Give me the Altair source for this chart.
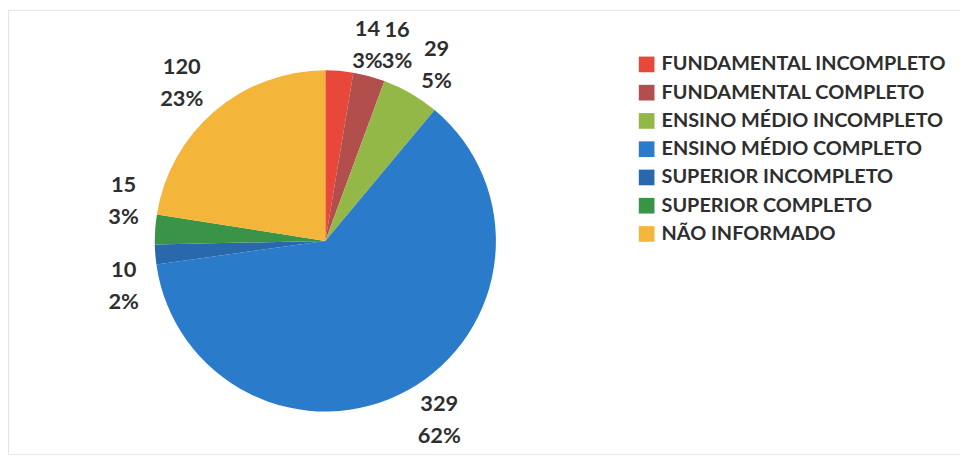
import altair as alt
import pandas as pd

categories = ["FUNDAMENTAL INCOMPLETO", "FUNDAMENTAL COMPLETO", "ENSINO MÉDIO INCOMPLETO",
              "ENSINO MÉDIO COMPLETO", "SUPERIOR INCOMPLETO", "SUPERIOR COMPLETO", "NÃO INFORMADO"]
values = [14, 16, 29, 329, 10, 15, 120]
percents = ["3%", "3%", "5%", "62%", "2%", "3%", "23%"]
colors = ["#E8483A", "#B24E4C", "#94B847", "#2B7BCB", "#2A68AD", "#399447", "#F4B63A"]

df = pd.DataFrame({
    "cat": categories,
    "value": values,
    "order": list(range(len(values))),
    "label": [f"{v}\n{p}" for v, p in zip(values, percents)],
})

CX, CY = 320, 233
color = alt.Color("cat:N", scale=alt.Scale(domain=categories, range=colors),
                  legend=alt.Legend(title=None, orient="none", legendX=634, legendY=45,
                                    symbolType="square", symbolSize=250, symbolStrokeWidth=0,
                                    labelFont="Lato", labelFontWeight="bold", labelFontSize=20,
                                    labelColor="#2e2e2e", rowPadding=8.5, labelOffset=5,
                                    labelLimit=400))

pie = alt.Chart(df).mark_arc(outerRadius=172, stroke=None).encode(
    theta=alt.Theta("value:Q", stack=True),
    order=alt.Order("order:Q"),
    color=color, x=alt.value(CX), y=alt.value(CY)
)

text_base = alt.Chart(df).transform_window(
    cum="sum(value)", sort=[alt.SortField("order")], frame=[None, 0]
).transform_joinaggregate(
    total="sum(value)"
).transform_calculate(
    mid="(datum.cum - datum.value / 2) / datum.total"
)

offsets = [(25, -2), (18, -8), (6, -10), (12, -21), (8, 13), (8, -42), (-7, -14)]
layers = [pie]
for cat, (dx, dy) in zip(categories, offsets):
    layers.append(
        text_base.transform_filter(alt.datum.cat == cat).mark_text(
            radius=212, dx=dx, dy=dy, font="Lato", fontWeight="bold", fontSize=22,
            color="#2e2e2e", lineBreak="\n", lineHeight=32, align="center", baseline="middle"
        ).encode(
            theta=alt.Theta("mid:Q", stack=None, scale=alt.Scale(domain=[0, 1])),
            text="label:N", x=alt.value(CX), y=alt.value(CY)
        )
    )

chart = alt.layer(*layers).resolve_scale(theta="independent").properties(
    width=960, height=448,
    autosize=alt.AutoSizeParams(type="fit", contains="padding"),
    padding=0,
).configure_view(stroke="#e4e4e4", strokeWidth=1)

chart.save("out.html", embed_options={"renderer": "svg", "actions": False})
